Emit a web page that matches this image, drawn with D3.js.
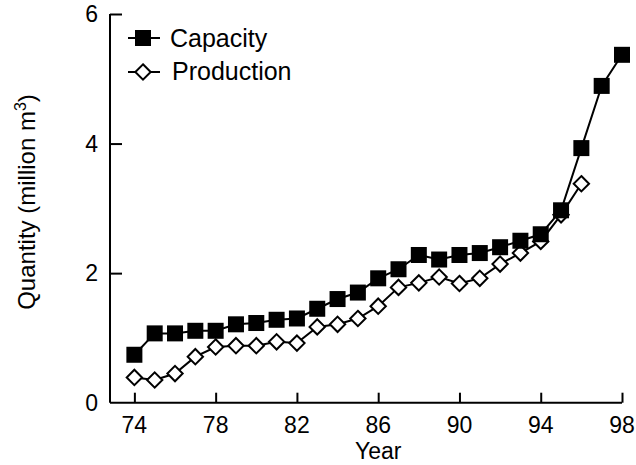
<!DOCTYPE html>
<html lang="en">
<head>
<meta charset="utf-8">
<title>Capacity and production</title>
<script src="https://d3js.org/d3.v7.min.js"></script>
<style>
  body { margin: 0; background: #fff; }
  svg text { font-family: Arial, "Liberation Sans", sans-serif; fill: #000; }
</style>
</head>
<body>
<script>

// data
var years = [74, 75, 76, 77, 78, 79, 80, 81, 82, 83, 84, 85, 86,
             87, 88, 89, 90, 91, 92, 93, 94, 95, 96, 97, 98];
var capacity = [0.74, 1.07, 1.07, 1.11, 1.11, 1.21, 1.23, 1.28, 1.30, 1.45, 1.60, 1.70, 1.92,
                2.06, 2.28, 2.21, 2.28, 2.31, 2.40, 2.50, 2.60, 2.97, 3.93, 4.89, 5.37];
var production = [0.39, 0.35, 0.45, 0.71, 0.86, 0.88, 0.88, 0.94, 0.92, 1.17, 1.21, 1.30, 1.49,
                  1.78, 1.85, 1.94, 1.84, 1.92, 2.14, 2.31, 2.49, 2.90, 3.38];
var xTicks = [74, 78, 82, 86, 90, 94, 98];
var yTicks = [0, 2, 4, 6];
var seriesNames = ["Capacity", "Production"];

var width = 636, height = 465;
var margin = {top: 14, right: 14, bottom: 62, left: 110};

var svg = d3.select("body").append("svg")
    .attr("width", width)
    .attr("height", height);

var x = d3.scaleLinear()
    .domain([72.8, 98])
    .range([margin.left, width - margin.right]);

var y = d3.scaleLinear()
    .domain([0, 6])
    .range([height - margin.bottom - 0.3, margin.top]);

// axes, ticks pointing inward
var xAxis = svg.append("g")
    .attr("transform", "translate(0," + y(0) + ")")
    .call(d3.axisTop(x).tickValues(xTicks).tickSize(10).tickSizeOuter(0).tickFormat(""));
var yAxis = svg.append("g")
    .attr("transform", "translate(" + x.range()[0] + ",0)")
    .call(d3.axisRight(y).tickValues(yTicks.slice(1)).tickSize(12).tickSizeOuter(0).tickFormat(""));

[xAxis, yAxis].forEach(function(a) {
  a.selectAll("path, line").attr("stroke", "#000").attr("stroke-width", 2);
});
yAxis.select(".domain").attr("d", "M0," + y(0) + "V" + y(6));
xAxis.select(".domain").attr("d", "M" + x.range()[0] + ",0H" + x(98));

// tick labels
svg.append("g").selectAll("text")
  .data(xTicks).enter().append("text")
    .attr("x", function(d) { return x(d); })
    .attr("y", 433)
    .attr("text-anchor", "middle")
    .attr("font-size", 23)
    .text(function(d) { return d; });

svg.append("g").selectAll("text")
  .data(yTicks).enter().append("text")
    .attr("x", 98)
    .attr("y", function(d) { return y(d) + 8; })
    .attr("text-anchor", "end")
    .attr("font-size", 23)
    .text(function(d) { return d; });

// axis titles
svg.append("text")
    .attr("x", x(86))
    .attr("y", 459)
    .attr("text-anchor", "middle")
    .attr("font-size", 23)
    .text("Year");

var yl = svg.append("text")
    .attr("transform", "translate(35,202) rotate(-90)")
    .attr("text-anchor", "middle")
    .attr("font-size", 24);
yl.append("tspan").text("Quantity (million m");
yl.append("tspan").attr("dy", -9).attr("font-size", 16).text("3");
yl.append("tspan").attr("dy", 9).text(")");

// lines
var capData = years.map(function(d, i) { return [d, capacity[i]]; });
var prodData = production.map(function(v, i) { return [years[i], v]; });

var line = d3.line()
    .x(function(d) { return x(d[0]); })
    .y(function(d) { return y(d[1]); });

svg.append("path")
    .datum(prodData)
    .attr("d", line)
    .attr("fill", "none")
    .attr("stroke", "#000")
    .attr("stroke-width", 2);

svg.append("path")
    .datum(capData)
    .attr("d", line)
    .attr("fill", "none")
    .attr("stroke", "#000")
    .attr("stroke-width", 2);

var diamond = d3.symbol().type(d3.symbolDiamond2).size(150);

svg.append("g").selectAll("path")
  .data(prodData).enter().append("path")
    .attr("d", diamond)
    .attr("transform", function(d) { return "translate(" + x(d[0]) + "," + y(d[1]) + ")"; })
    .attr("fill", "#fff")
    .attr("stroke", "#000")
    .attr("stroke-width", 2);

svg.append("g").selectAll("rect")
  .data(capData).enter().append("rect")
    .attr("x", function(d) { return x(d[0]) - 8; })
    .attr("y", function(d) { return y(d[1]) - 8; })
    .attr("width", 16)
    .attr("height", 16)
    .attr("fill", "#000");

// legend
var leg = svg.append("g");
leg.append("line").attr("x1", 128).attr("x2", 160).attr("y1", 38).attr("y2", 38)
    .attr("stroke", "#000").attr("stroke-width", 2);
leg.append("rect").attr("x", 135).attr("y", 30).attr("width", 16).attr("height", 16).attr("fill", "#000");
leg.append("text").attr("x", 170).attr("y", 46.5).attr("font-size", 25).text(seriesNames[0]);

leg.append("line").attr("x1", 128).attr("x2", 160).attr("y1", 72).attr("y2", 72)
    .attr("stroke", "#000").attr("stroke-width", 2);
leg.append("path").attr("d", diamond).attr("transform", "translate(143,72)")
    .attr("fill", "#fff").attr("stroke", "#000").attr("stroke-width", 2);
leg.append("text").attr("x", 172).attr("y", 80).attr("font-size", 25).text(seriesNames[1]);

</script>
</body>
</html>
